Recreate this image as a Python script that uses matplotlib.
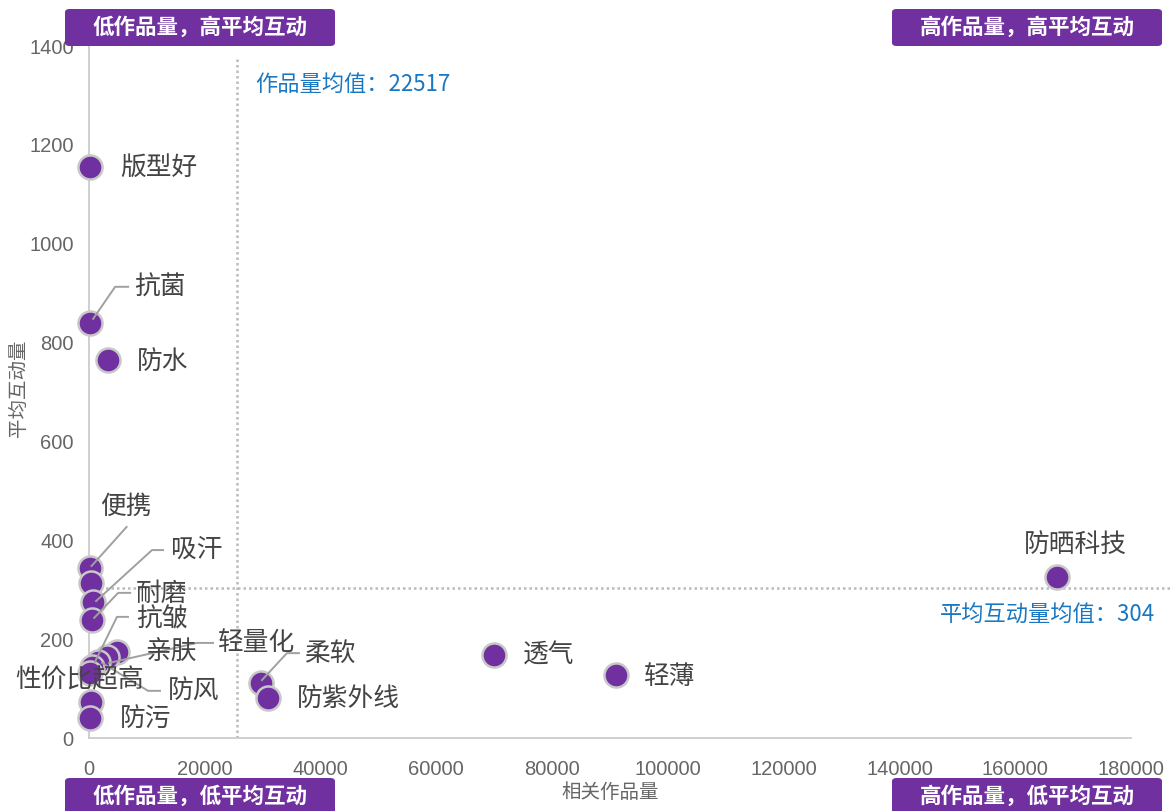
import numpy as np
import matplotlib.pyplot as plt
from matplotlib.lines import Line2D
from matplotlib.patches import FancyBboxPatch
from matplotlib.transforms import IdentityTransform

plt.rcParams['font.family'] = ['Noto Sans CJK SC', 'DejaVu Sans']

# =============================================================================
# DATA
# =============================================================================
names = ['版型好', '抗菌', '防水', '便携', '', '吸汗', '耐磨', '亲肤', '轻量化',
         '抗皱', '防风', '性价比超高', '', '防污', '柔软', '防紫外线', '透气',
         '轻薄', '防晒科技']
works = [200, 200, 3280, 100, 300, 700, 550, 4800, 3110,
         1550, 520, 170, 350, 100, 29700, 30900, 69900,
         91000, 167200]
interact = [1155, 840, 765, 344, 314, 275, 239, 174, 164,
            154, 144, 131, 73, 40, 111, 81, 168,
            127, 326]

works_mean_label = 22517
works_mean_pos = 25500
interact_mean = 304

x_ticks = [0, 20000, 40000, 60000, 80000, 100000, 120000, 140000, 160000, 180000]
y_ticks = [0, 200, 400, 600, 800, 1000, 1200, 1400]

quadrants = ['低作品量，高平均互动', '高作品量，高平均互动',
             '低作品量，低平均互动', '高作品量，低平均互动']

# label layout: name -> (dx, dy, ha, leader offsets) in pixels, y downwards
label_layout = {
    '版型好': (30, 1, 'left', None),
    '抗菌': (44, -35, 'left', [(38, -36), (25, -36), (3, -4)]),
    '防水': (29, 2, 'left', None),
    '便携': (36, -61, 'center', [(37, -41), (2, -2)]),
    '吸汗': (78, -52, 'left', [(70, -52), (59, -52), (3, -1)]),
    '耐磨': (44, -26, 'left', [(38, -27), (26, -27), (2, -2)]),
    '亲肤': (28, 0, 'left', None),
    '轻量化': (111, -14, 'left', [(106, -14), (90, -14), (2, 6)]),
    '抗皱': (38, -43, 'left', [(30, -45), (19, -45), (-3, 0)]),
    '防风': (76, 25, 'left', [(68, 24), (56, 24), (10, -4)]),
    '性价比超高': (-10, 7, 'center', None),
    '防污': (30, 1, 'left', None),
    '柔软': (43, -29, 'left', [(38, -30), (26, -30), (1, -3)]),
    '防紫外线': (29, 1, 'left', None),
    '透气': (29, 1, 'left', None),
    '轻薄': (28, 2, 'left', None),
    '防晒科技': (18, -32, 'center', None),
}

purple = '#7030A0'
blue = '#1a78c2'

# =============================================================================
# PLOT
# =============================================================================
W, H = 1170, 811
fig = plt.figure(figsize=(W / 100, H / 100), dpi=100)
ax_l, ax_r, ax_t, ax_b = 89, 1131, 46, 738
ax = fig.add_axes([ax_l / W, 1 - ax_b / H, (ax_r - ax_l) / W, (ax_b - ax_t) / H])

ax.set_xlim(0, 180000)
ax.set_ylim(0, 1400)
ax.set_xticks(x_ticks)
ax.set_yticks(y_ticks)
ax.tick_params(length=0, labelsize=14.5, colors='#666666')
ax.tick_params(axis='x', pad=16)
ax.tick_params(axis='y', pad=11)
for lbl in ax.get_xticklabels() + ax.get_yticklabels():
    lbl.set_family(['Liberation Sans', 'DejaVu Sans'])
for s in ['top', 'right']:
    ax.spines[s].set_visible(False)
for s in ['left', 'bottom']:
    ax.spines[s].set_color('#cccccc')
    ax.spines[s].set_linewidth(1.3)

ax.set_xlabel('相关作品量', fontsize=14, color='#666666', labelpad=2)
fig.text(18 / W, 1 - 388 / H, '平均互动量', rotation=90, ha='center',
         va='center', fontsize=14, color='#666666')

# mean lines
ax.axvline(works_mean_pos, ymin=0, ymax=(ax_b - 57) / (ax_b - ax_t),
           color='#bbbbbb', lw=1.8, ls=(0, (1, 1.2)), zorder=1)
ax.axhline(interact_mean, xmin=0, xmax=(1170 - ax_l) / (ax_r - ax_l),
           color='#bbbbbb', lw=1.8, ls=(0, (1, 1.2)), zorder=1, clip_on=False)
ax.annotate(f'作品量均值：{works_mean_label}', xy=(works_mean_pos, 1400),
            xytext=(19, -38), textcoords='offset pixels', ha='left', va='center',
            fontsize=16, color=blue)
ax.annotate(f'平均互动量均值：{interact_mean}', xy=(180000, interact_mean),
            xytext=(24, -28), textcoords='offset pixels', ha='right', va='center',
            fontsize=16, color=blue, annotation_clip=False)

# points
ax.scatter(works, interact, s=300, color=purple, edgecolor='#c8c8c8',
           linewidth=1.8, zorder=3, clip_on=False)

# labels and leader lines
for name, x, y in zip(names, works, interact):
    if not name:
        continue
    dx, dy, ha, leader = label_layout[name]
    px, py = ax.transData.transform((x, y))
    ax.text(px + dx, py - dy, name, transform=IdentityTransform(), ha=ha,
            va='center', fontsize=18.5, color='#444444', zorder=5)
    if leader:
        xs = [px + ox for ox, oy in leader]
        ys = [py - oy for ox, oy in leader]
        ax.add_line(Line2D(xs, ys, transform=IdentityTransform(),
                           color='#a0a0a0', lw=1.4, zorder=4))

# quadrant tags
boxes = [(65, 9), (892, 9), (65, 778), (892, 778)]
for (bx, by), txt in zip(boxes, quadrants):
    bw, bh = 270, 37
    patch = FancyBboxPatch((bx / W, 1 - (by + bh) / H), bw / W, bh / H,
                           boxstyle='round,pad=0,rounding_size=0.004',
                           transform=fig.transFigure, facecolor=purple,
                           edgecolor='none', zorder=10)
    fig.patches.append(patch)
    fig.text((bx + bw / 2) / W, 1 - (by + bh / 2) / H, txt, ha='center',
             va='center', fontsize=15.5, fontweight='bold', color='white',
             zorder=11)

fig.savefig('out.png', dpi=100)
